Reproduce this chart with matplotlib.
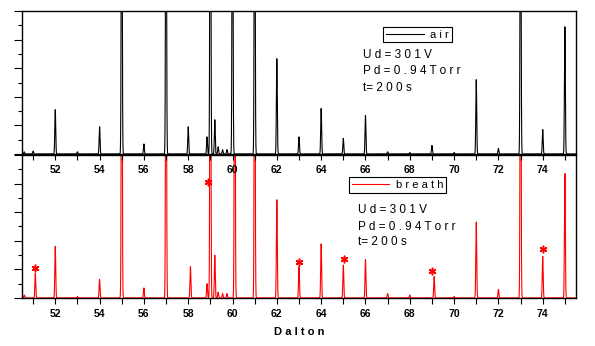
import numpy as np
import matplotlib
matplotlib.use("Agg")
import matplotlib.pyplot as plt
from matplotlib.ticker import MultipleLocator, NullFormatter

plt.rcParams['font.family'] = ['Liberation Sans', 'DejaVu Sans']

# peak positions (Dalton) and heights (% of panel height, >100 is clipped)
air_pos = [50.6, 51.0, 52.0, 53.0, 54.0, 55.0, 56.0, 57.0, 58.0, 58.85, 59.0, 59.2,
           59.35, 59.55, 59.75, 60.0, 61.0, 62.0, 63.0, 64.0, 65.0, 66.0, 67.0,
           68.0, 69.0, 70.0, 71.0, 72.0, 73.0, 74.0, 75.0]
air_h = [1.5, 2, 31, 1.5, 19, 300, 7, 300, 19, 12, 400, 24,
         5, 3, 3, 300, 300, 67, 12, 32, 11, 27, 1.5,
         1, 6, 1, 52, 4, 300, 17, 89]

breath_pos = [50.6, 51.1, 52.0, 53.0, 54.0, 55.0, 56.0, 57.0, 58.1, 58.85, 59.0, 59.2,
              59.35, 59.55, 59.75, 60.1, 61.0, 62.0, 63.0, 64.0, 65.0, 66.0, 67.0,
              68.0, 69.1, 70.0, 71.0, 72.0, 73.0, 74.0, 75.0]
breath_h = [2, 17, 36, 1, 13, 300, 7, 300, 22, 10, 400, 30,
            4, 3, 3, 300, 300, 69, 22, 38, 23, 27, 3,
            2, 15, 1, 53, 6, 300, 29, 87]

# starred peaks in the breath spectrum
star_x = [51.1, 58.9, 63.0, 65.05, 69.0, 74.0]
star_y = [21, 81, 25, 27, 19, 34]

info = ["U d = 3 0 1 V", "P d = 0 . 9 4 T o r r", "t= 2 0 0 s"]


def spectrum(pos, h, x, w=0.02):
    y = np.zeros_like(x)
    for p, a in zip(pos, h):
        y += a * np.exp(-0.5 * ((x - p) / w) ** 2)
    return y


x = np.linspace(50.5, 75.5, 6000)

fig = plt.figure(figsize=(5.95, 3.46), dpi=100)
ax2 = fig.add_axes([0.037, 0.139, 0.931, 0.413])
ax1 = fig.add_axes([0.037, 0.555, 0.931, 0.413])
ax1.set_zorder(3)
ax1.patch.set_alpha(0)

ax1.plot(x, spectrum(air_pos, air_h, x), color='black', lw=0.8, label='a i r')
ax2.plot(x, spectrum(breath_pos, breath_h, x), color='red', lw=0.8, label='b r e a t h')
ax2.plot(star_x, star_y, ls='none', marker=(6, 2, 0), ms=5.5, mew=1.1, color='red')

for ax in (ax1, ax2):
    ax.set_xlim(50.5, 75.5)
    ax.set_ylim(0, 100)
    ax.xaxis.set_major_locator(MultipleLocator(2))
    ax.xaxis.set_minor_locator(MultipleLocator(1))
    ax.yaxis.set_major_locator(MultipleLocator(20))
    ax.yaxis.set_minor_locator(MultipleLocator(10))
    ax.yaxis.set_major_formatter(NullFormatter())
    ax.tick_params(axis='x', which='both', direction='out', length=4, width=0.8,
                   pad=4, labelsize=7.5)
    ax.tick_params(axis='y', which='major', direction='out', length=6, width=0.8)
    ax.tick_params(axis='y', which='minor', direction='out', length=3, width=0.8)
    for lab in ax.get_xticklabels():
        lab.set_fontweight('bold')
    for s in ax.spines.values():
        s.set_linewidth(1.0)

ax2.set_xlabel("D a l t o n", fontsize=8, fontweight='bold', labelpad=6)

leg1 = ax1.legend(loc='upper left', bbox_to_anchor=(0.652, 0.89), fancybox=False,
                  edgecolor='black', framealpha=1, fontsize=8, handlelength=3.4,
                  borderpad=0.25, handletextpad=0.6, borderaxespad=0)
leg1.get_frame().set_linewidth(0.8)
leg2 = ax2.legend(loc='upper left', bbox_to_anchor=(0.59, 0.845), fancybox=False,
                  edgecolor='black', framealpha=1, fontsize=8, handlelength=3.4,
                  borderpad=0.25, handletextpad=0.6, borderaxespad=0)
leg2.get_frame().set_linewidth(0.8)

for ys, ax, x0 in (([0.692, 0.578, 0.462], ax1, 0.616), ([0.612, 0.497, 0.392], ax2, 0.606)):
    for yy, t in zip(ys, info):
        ax.text(x0, yy, t, transform=ax.transAxes, fontsize=8.5, va='center', ha='left')

fig.savefig("out.png", dpi=100)
